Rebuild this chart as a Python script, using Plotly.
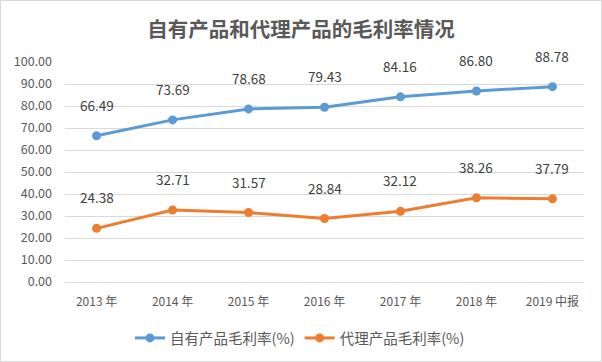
import plotly.graph_objects as go

categories = ["2013 年", "2014 年", "2015 年", "2016 年", "2017 年", "2018 年", "2019 中报"]
own_margin = [66.49, 73.69, 78.68, 79.43, 84.16, 86.80, 88.78]
agent_margin = [24.38, 32.71, 31.57, 28.84, 32.12, 38.26, 37.79]
series_names = ["自有产品毛利率(%)", "代理产品毛利率(%)"]
y_ticks = [0, 10, 20, 30, 40, 50, 60, 70, 80, 90, 100]

W, H = 602, 362
L, R, T, B = 65, 584, 62, 282

font_family = "Noto Sans CJK SC, Microsoft YaHei, sans-serif"

fig = go.Figure()
for name, vals, color in [(series_names[0], own_margin, "#5B9BD5"),
                          (series_names[1], agent_margin, "#ED7D31")]:
    fig.add_trace(go.Scatter(
        x=categories, y=vals, name=name, mode="lines+markers",
        line=dict(color=color, width=3),
        marker=dict(color=color, size=9),
        cliponaxis=False,
    ))
    for c, v in zip(categories, vals):
        fig.add_annotation(x=c, y=v, text=f"{v:.2f}", showarrow=False,
                           yshift=31, font=dict(size=13.5, color="#404040", family=font_family))

pw = R - L
ph = B - T
fig.add_shape(type="rect", xref="paper", yref="paper",
              x0=(0.5 - L) / pw, x1=(W - 0.5 - L) / pw,
              y0=(B - (H - 0.5)) / ph, y1=(B - 0.5) / ph,
              line=dict(color="#D9D9D9", width=1), fillcolor="rgba(0,0,0,0)", layer="below")

fig.update_layout(
    width=W, height=H,
    margin=dict(l=L, r=W - R, t=T, b=H - B, autoexpand=False),
    paper_bgcolor="white", plot_bgcolor="white",
    font=dict(family=font_family, color="#595959", size=12),
    title=dict(text="<b>自有产品和代理产品的毛利率情况</b>", x=0.5, xanchor="center",
               xref="container",
               y=1 - 30 / H, yanchor="middle",
               font=dict(size=20.5, color="#595959", family=font_family)),
    xaxis=dict(type="category", showgrid=False, showline=False, ticks="", automargin=False,
               tickfont=dict(size=12, color="#595959"), ticklabelstandoff=11),
    yaxis=dict(range=[0, 100], tickvals=y_ticks, ticktext=[f"{v:.2f}" for v in y_ticks],
               showgrid=True, gridcolor="#D9D9D9", gridwidth=1, zeroline=True, automargin=False,
               zerolinecolor="#D9D9D9", zerolinewidth=1, showline=False, ticks="",
               tickfont=dict(size=12.5, color="#595959"), ticklabelstandoff=12),
    legend=dict(orientation="h", x=(300 - L) / pw, xanchor="center", y=-(338 - B) / ph,
                yanchor="middle", font=dict(size=14.5, color="#595959"), tracegroupgap=0),
    showlegend=True,
)

fig.write_html("out.html", config={"displayModeBar": False},
               post_script="document.body.style.margin='0';")
